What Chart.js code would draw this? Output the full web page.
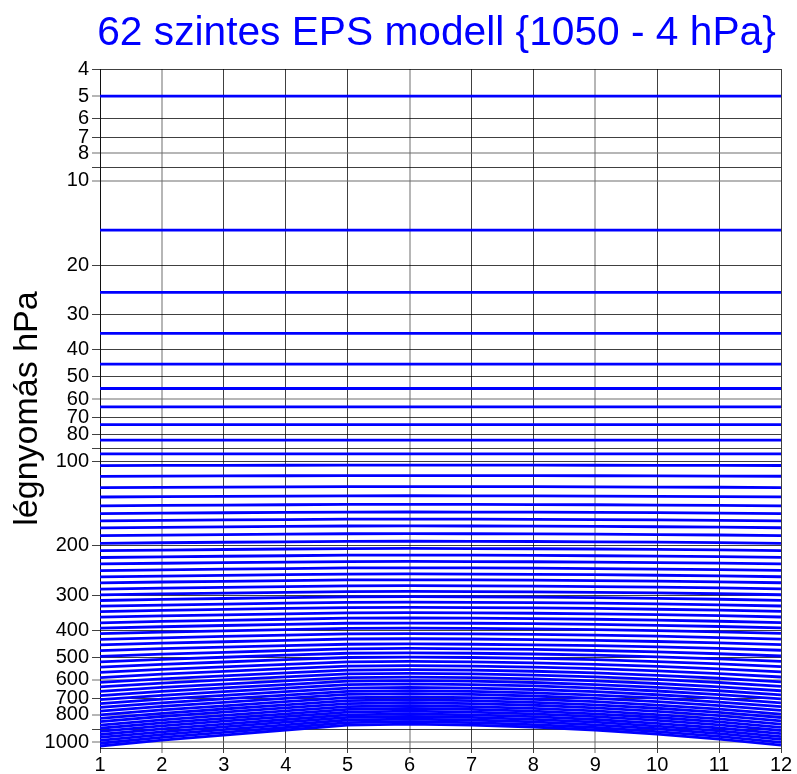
<!DOCTYPE html>
<html>
<head>
<meta charset="utf-8">
<script src="https://cdn.jsdelivr.net/npm/chart.js@4.4.1/dist/chart.umd.min.js"></script>
<style>
html,body{margin:0;padding:0;background:#ffffff;}
#wrap{width:797px;height:774px;}
</style>
</head>
<body>
<div id="wrap"><canvas id="c" width="797" height="774"></canvas></div>
<script>
// ---- data ----
const xValues = [1, 2, 3, 4, 5, 6, 7, 8, 9, 10, 11, 12];
// surface pressure (hPa) along the section (lowest drawn line)
const surfacePressure = [1033, 984, 944, 906, 870, 863, 870, 884, 906, 937, 976, 1025];
// hybrid level coefficients: p = A + B * ps  (62 levels, top to bottom)
const levelA = [5, 15, 25, 35, 45, 55, 64, 74, 84, 94,
  101.4, 108.9, 117.8, 125.7, 133.7, 141.1, 148.5, 156.0, 165.4, 175.3, 185.3,
  194.2, 203.1, 211.9, 220.8, 229.7, 238.5, 247.4, 255.2, 264.0, 271.7, 279.5, 287.2, 293.8, 300.5, 308.1, 314.6, 321.2,
  307.0, 293.8, 279.7, 267.5, 254.3, 241.1, 228.0, 214.8, 201.6, 187.4, 174.2, 161.1, 146.9, 134.7, 120.6, 106.4, 94.2, 80.0, 66.9, 53.7, 39.5, 26.3, 13.2, 0];
const levelB = [0, 0, 0, 0, 0, 0, 0, 0, 0, 0,
  0.002, 0.004, 0.006, 0.008, 0.010, 0.012, 0.014, 0.016, 0.018, 0.020, 0.022,
  0.025, 0.028, 0.032, 0.036, 0.040, 0.045, 0.050, 0.056, 0.062, 0.069, 0.077, 0.086, 0.096, 0.107, 0.119, 0.132, 0.146,
  0.182, 0.217, 0.253, 0.288, 0.324, 0.360, 0.395, 0.431, 0.466, 0.502, 0.538, 0.573, 0.609, 0.644, 0.680, 0.716, 0.751, 0.787, 0.822, 0.858, 0.894, 0.929, 0.965, 1.000];
const yGridValues = [4, 5, 6, 7, 8, 9, 10, 20, 30, 40, 50, 60, 70, 80, 90, 100, 200, 300, 400, 500, 600, 700, 800, 900, 1000];
const yLabelValues = [4, 5, 6, 7, 8, 10, 20, 30, 40, 50, 60, 70, 80, 100, 200, 300, 400, 500, 600, 700, 800, 1000];
const titleText = '62 szintes EPS modell {1050 - 4 hPa}';
const yAxisTitle = 'légnyomás hPa';

// ---- styling ----
const lightX = [2, 6, 9];
const lightY = [5, 8, 10, 60, 600, 800, 1000];
const DARK = 'rgba(0,0,0,0.75)';
const LIGHT = 'rgba(110,110,110,0.5)';
const FONT = 'Liberation Sans';

const datasets = levelA.map((a, k) => ({
  data: xValues.map((x, i) => ({ x: x, y: a + levelB[k] * surfacePressure[i] })),
  borderColor: '#0000ff',
  borderWidth: 2.8,
  pointRadius: 0,
  fill: false,
  tension: 0
}));

// title centred over the plot area
const plotTitle = {
  id: 'plotTitle',
  afterDraw(chart) {
    const { ctx, chartArea } = chart;
    ctx.save();
    ctx.font = '40.7px "' + FONT + '"';
    ctx.fillStyle = '#0000ff';
    ctx.textAlign = 'center';
    ctx.textBaseline = 'middle';
    ctx.fillText(titleText, (chartArea.left + chartArea.right) / 2 - 4, 34);
    ctx.restore();
  }
};

new Chart(document.getElementById('c'), {
  type: 'line',
  data: { datasets: datasets },
  plugins: [plotTitle],
  options: {
    responsive: false,
    animation: false,
    layout: { padding: { left: 0, right: 16, top: 69, bottom: 0 } },
    plugins: {
      legend: { display: false },
      tooltip: { enabled: false },
      title: { display: false }
    },
    scales: {
      x: {
        type: 'linear',
        min: 1,
        max: 12,
        z: 1,
        afterBuildTicks: s => { s.ticks = xValues.map(v => ({ value: v })); },
        afterFit: s => { s.height = 26; },
        grid: {
          color: ctx => (ctx.tick && lightX.includes(ctx.tick.value)) ? LIGHT : DARK,
          lineWidth: ctx => (ctx.tick && lightX.includes(ctx.tick.value)) ? 2 : 1,
          tickLength: 5
        },
        border: { color: DARK, width: 1 },
        ticks: {
          color: '#000',
          padding: 0,
          maxRotation: 0,
          font: { family: FONT, size: 20 },
          callback: v => String(v)
        }
      },
      y: {
        type: 'logarithmic',
        reverse: true,
        min: 4,
        max: 1050,
        z: 1,
        afterBuildTicks: s => { s.ticks = yGridValues.map(v => ({ value: v })); },
        afterFit: s => { s.width = 100; },
        grid: {
          color: ctx => (ctx.tick && lightY.includes(ctx.tick.value)) ? LIGHT : DARK,
          lineWidth: ctx => (ctx.tick && lightY.includes(ctx.tick.value)) ? 2 : 1,
          tickLength: 8
        },
        border: { color: DARK, width: 1 },
        title: {
          display: true,
          text: yAxisTitle,
          color: '#000',
          font: { family: FONT, size: 34, weight: 'normal' },
          padding: { top: 7, bottom: 0 }
        },
        ticks: {
          color: '#000',
          padding: 3,
          font: { family: FONT, size: 20 },
          autoSkip: false,
          callback: v => yLabelValues.includes(v) ? String(v) : ''
        }
      }
    }
  }
});
</script>
</body>
</html>
